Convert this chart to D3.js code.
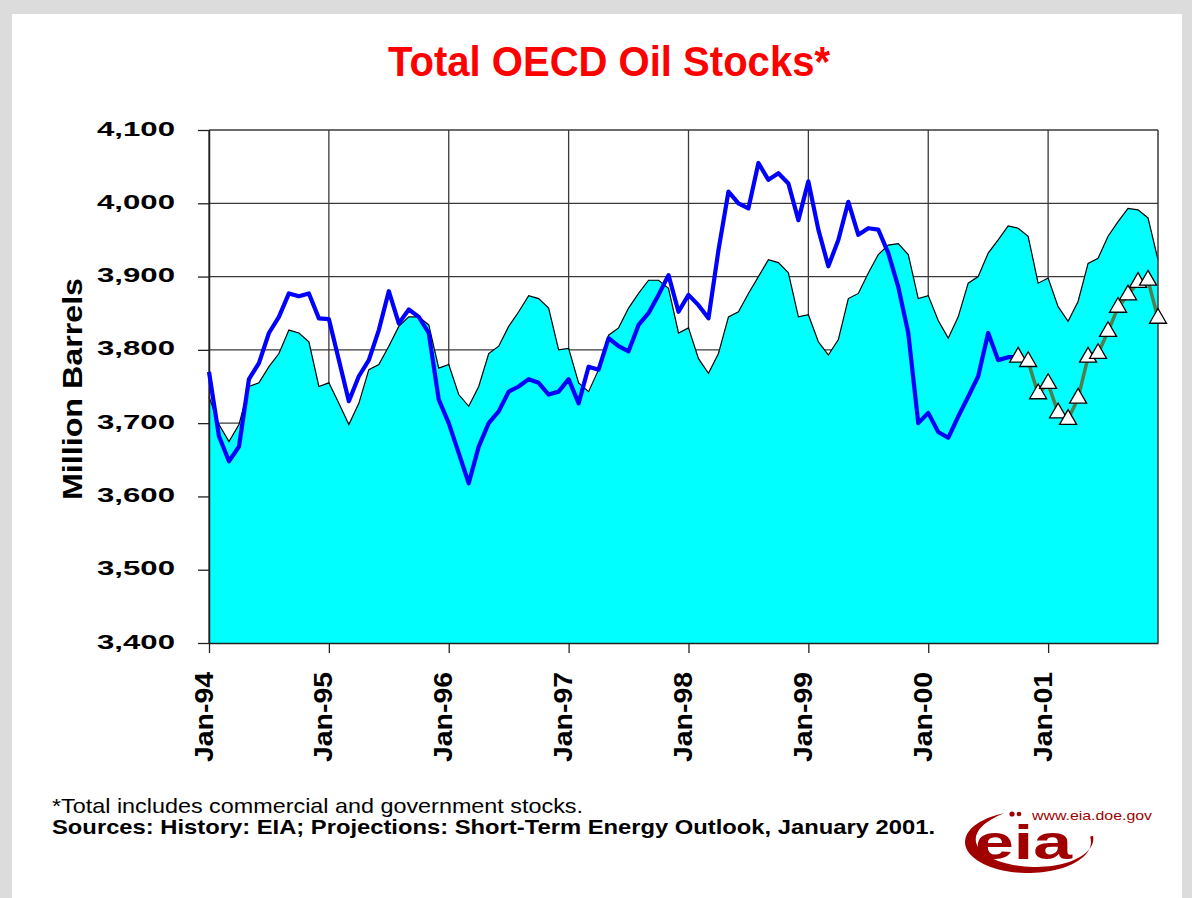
<!DOCTYPE html>
<html>
<head>
<meta charset="utf-8">
<script src="https://cdn.jsdelivr.net/npm/d3@7"></script>
<style>
  body { margin: 0; background: #dcdcdc; }
  svg { display: block; }
</style>
</head>
<body>
<svg id="chart" width="1192" height="898"></svg>
<script>
// month index 0 = Jan-94 ... 95 = Dec-01
var xTickIdx = [0, 12, 24, 36, 48, 60, 72, 84];
var xTickLabels = ['Jan-94', 'Jan-95', 'Jan-96', 'Jan-97', 'Jan-98', 'Jan-99', 'Jan-00', 'Jan-01'];
var yTicks = [3400, 3500, 3600, 3700, 3800, 3900, 4000, 4100];

// shaded area (cyan)
var areaVals = [
  3736, 3698, 3675, 3698, 3750, 3755, 3777, 3795, 3827, 3823, 3811, 3750,
  3755, 3727, 3698, 3727, 3773, 3780, 3805, 3832, 3845, 3845, 3834, 3775,
  3780, 3739, 3723, 3750, 3795, 3805, 3832, 3852, 3874, 3870, 3857, 3800,
  3802, 3755, 3743, 3773, 3820, 3830, 3857, 3877, 3895, 3895, 3884, 3823,
  3830, 3788, 3768, 3795, 3845, 3852, 3877, 3900, 3923, 3919, 3905, 3845,
  3848, 3811, 3793, 3814, 3870, 3877, 3905, 3930, 3943, 3945, 3930, 3870,
  3874, 3840, 3816, 3845, 3891, 3900, 3932, 3950, 3969, 3966, 3955, 3891,
  3898, 3859, 3839, 3866, 3918, 3925, 3955, 3975, 3993, 3991, 3980, 3923
];

// history (blue), Jan-94 .. Oct-00
var historyVals = [
  3770, 3682, 3648, 3668, 3760, 3782, 3823, 3845, 3877, 3873, 3877, 3843,
  3842, 3786, 3730, 3764, 3786, 3827, 3880, 3836, 3855, 3845, 3823, 3732,
  3700, 3659, 3618, 3668, 3700, 3716, 3743, 3750, 3760, 3755, 3739, 3743,
  3760, 3727, 3777, 3773, 3816, 3805, 3798, 3834, 3850, 3875, 3902, 3852,
  3875, 3861, 3843, 3936, 4016, 4000, 3993, 4055, 4032, 4041, 4027, 3977,
  4030, 3964, 3914, 3950, 4002, 3957, 3966, 3964, 3932, 3886, 3823, 3700,
  3714, 3688, 3680, 3709, 3736, 3764, 3823, 3786, 3790, 3790
];

// projection (triangles), Oct-00 .. Dec-01
var projStart = 81;
var projVals = [3790, 3784, 3740, 3754, 3714, 3705, 3734, 3790, 3795, 3825, 3858, 3875, 3892, 3895, 3843];

var svg = d3.select('#chart');

// page frame
svg.append('rect').attr('x', 0).attr('y', 0).attr('width', 1192).attr('height', 898).attr('fill', '#dcdcdc');
svg.append('rect').attr('x', 12).attr('y', 14).attr('width', 1170).attr('height', 884).attr('fill', '#ffffff');

var xScale = d3.scaleLinear().domain([0, 95]).range([209, 1158]);
var yScale = d3.scaleLinear().domain([3400, 4100]).range([643, 130]);

var font = 'Liberation Sans, Arial, Helvetica, sans-serif';

//Title
svg.append('text')
  .attr('x', 609).attr('y', 76)
  .attr('text-anchor', 'middle')
  .attr('font-family', font).attr('font-weight', 'bold').attr('font-size', 42)
  .attr('textLength', 442).attr('lengthAdjust', 'spacingAndGlyphs')
  .attr('fill', '#ff0000')
  .text('Total OECD Oil Stocks*');

//Grid
var grid = svg.append('g');
grid.selectAll('line.h').data(yTicks).enter().append('line')
  .attr('x1', xScale(0)).attr('x2', xScale(95))
  .attr('y1', function(d){ return yScale(d); }).attr('y2', function(d){ return yScale(d); })
  .attr('stroke', '#3a3a3a').attr('stroke-width', 1.3);
grid.selectAll('line.v').data(xTickIdx).enter().append('line')
  .attr('x1', function(d){ return xScale(d); }).attr('x2', function(d){ return xScale(d); })
  .attr('y1', yScale(4100)).attr('y2', yScale(3400))
  .attr('stroke', '#3a3a3a').attr('stroke-width', 1.3);

//Area
var area = d3.area()
  .x(function(d, i){ return xScale(i); })
  .y0(yScale(3400))
  .y1(function(d){ return yScale(d); });
svg.append('path').datum(areaVals).attr('d', area).attr('fill', '#00ffff');

var topLine = d3.line()
  .x(function(d, i){ return xScale(i); })
  .y(function(d){ return yScale(d); });
svg.append('path').datum(areaVals).attr('d', topLine)
  .attr('fill', 'none').attr('stroke', '#000').attr('stroke-width', 1.2);

// right border
svg.append('line')
  .attr('x1', xScale(95)).attr('x2', xScale(95))
  .attr('y1', yScale(4100)).attr('y2', yScale(3400))
  .attr('stroke', '#3a3a3a').attr('stroke-width', 1.5);

//Axes
var yAxis = d3.axisLeft(yScale).tickValues(yTicks).tickSize(11).tickSizeOuter(0).tickFormat(d3.format(','));
var gy = svg.append('g').attr('transform', 'translate(' + xScale(0) + ',0)').call(yAxis);
gy.select('.domain').attr('stroke', '#222').attr('stroke-width', 1.5);
gy.selectAll('.tick line').attr('stroke', '#222').attr('stroke-width', 1.3);
gy.selectAll('.tick text')
  .attr('x', -34).attr('dy', null).attr('y', 5)
  .attr('font-family', font).attr('font-weight', 'bold').attr('font-size', 21)
  .attr('textLength', 78).attr('lengthAdjust', 'spacingAndGlyphs')
  .attr('fill', '#000');

var xAxis = d3.axisBottom(xScale).tickValues(xTickIdx).tickSize(10).tickSizeOuter(0)
  .tickFormat(function(d, i){ return xTickLabels[i]; });
var gx = svg.append('g').attr('transform', 'translate(0,' + yScale(3400) + ')').call(xAxis);
gx.select('.domain').attr('stroke', '#222').attr('stroke-width', 1.5);
gx.selectAll('.tick line').attr('stroke', '#222').attr('stroke-width', 1.3);
gx.selectAll('.tick text')
  .attr('transform', 'rotate(-90)')
  .attr('text-anchor', 'end')
  .attr('x', -29).attr('y', 3).attr('dy', null)
  .attr('font-family', font).attr('font-weight', 'bold').attr('font-size', 26)
  .attr('textLength', 90).attr('lengthAdjust', 'spacingAndGlyphs')
  .attr('fill', '#000');

svg.append('text')
  .attr('transform', 'translate(82,389) rotate(-90)')
  .attr('text-anchor', 'middle')
  .attr('font-family', font).attr('font-weight', 'bold').attr('font-size', 28)
  .attr('textLength', 222).attr('lengthAdjust', 'spacingAndGlyphs')
  .text('Million Barrels');

//History line
svg.append('path').datum(historyVals).attr('d', topLine)
  .attr('fill', 'none').attr('stroke', '#0000ff').attr('stroke-width', 4.2)
  .attr('stroke-linejoin', 'round');

//Projection line + markers
var projLine = d3.line()
  .x(function(d, i){ return xScale(projStart + i); })
  .y(function(d){ return yScale(d); });
svg.append('path').datum(projVals).attr('d', projLine)
  .attr('fill', 'none').attr('stroke', '#4f7f4f').attr('stroke-width', 3.5);

var tri = d3.symbol().type(d3.symbolTriangle).size(125);
svg.selectAll('path.tri').data(projVals).enter().append('path')
  .attr('class', 'tri')
  .attr('d', tri)
  .attr('transform', function(d, i){ return 'translate(' + xScale(projStart + i) + ',' + yScale(d) + ')'; })
  .attr('fill', '#ffffff').attr('stroke', '#000').attr('stroke-width', 1.3);

//Footnotes
svg.append('text')
  .attr('x', 52).attr('y', 813)
  .attr('font-family', font).attr('font-size', 21)
  .attr('textLength', 531).attr('lengthAdjust', 'spacingAndGlyphs')
  .text('*Total includes commercial and government stocks.');
svg.append('text')
  .attr('x', 52).attr('y', 834)
  .attr('font-family', font).attr('font-weight', 'bold').attr('font-size', 21)
  .attr('textLength', 883).attr('lengthAdjust', 'spacingAndGlyphs')
  .text('Sources: History:  EIA; Projections: Short-Term Energy Outlook, January 2001.');

//EIA logo
var logo = svg.append('g');
var red = '#a00000';
var swoosh = [];
var cx = 1028, cy = 842;
for (var k = 0; k <= 60; k++) {
  var a = 2.0 + k * (4.45 / 60);
  swoosh.push([cx + 63 * Math.cos(a), cy - 31 * Math.sin(a)]);
}
for (var k = 60; k >= 0; k--) {
  var a = 2.0 + k * (4.45 / 60);
  var t = Math.sin(Math.PI * Math.pow(k / 60, 0.8));
  swoosh.push([cx + 3 + (63 - 9 * t) * Math.cos(a), cy - 1 - (31 - 6 * t) * Math.sin(a)]);
}
logo.append('path').attr('d', d3.line()(swoosh) + 'Z').attr('fill', red);
logo.append('circle').attr('cx', 1012).attr('cy', 814).attr('r', 2.6).attr('fill', red);
logo.append('circle').attr('cx', 1019).attr('cy', 814).attr('r', 2.3).attr('fill', red);
logo.append('text')
  .attr('x', 975).attr('y', 859)
  .attr('font-family', font).attr('font-weight', 'bold').attr('font-size', 48)
  .attr('textLength', 97).attr('lengthAdjust', 'spacingAndGlyphs')
  .attr('fill', red)
  .text('eia');
logo.append('text')
  .attr('x', 1032).attr('y', 820)
  .attr('font-family', font).attr('font-size', 13)
  .attr('textLength', 120).attr('lengthAdjust', 'spacingAndGlyphs')
  .attr('fill', red)
  .text('www.eia.doe.gov');
</script>
</body>
</html>
